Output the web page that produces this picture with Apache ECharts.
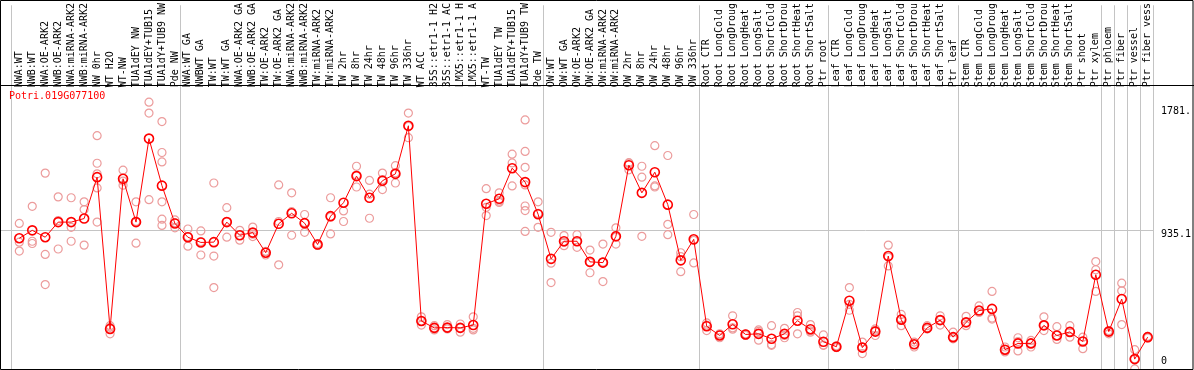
<!DOCTYPE html>
<html>
<head>
<meta charset="utf-8">
<script src="https://cdn.jsdelivr.net/npm/echarts@6/dist/echarts.min.js"></script>
<style>
html,body{margin:0;padding:0;background:#fff;}
#chart{width:1194px;height:370px;}
</style>
</head>
<body>
<div id="chart"></div>
<script>
var titleText = 'Potri.019G077100';

var categories = [
  'NWA:WT','NWB:WT','NWA:OE-ARK2','NWB:OE-ARK2','NWA:miRNA-ARK2','NWB:miRNA-ARK2','NW 0hr','WT H2O','WT-NW','TUA1dEY NW',
  'TUA1dEY+TUB15','TUA1dY+TUB9 NW','Pde NW','NWA:WT GA','NWBWT GA','TW:WT','TW:WT GA','NWA:OE-ARK2 GA','NWB:OE-ARK2 GA','TW:OE-ARK2',
  'TW:OE-ARK2 GA','NWA:miRNA-ARK2','NWB:miRNA-ARK2','TW:miRNA-ARK2','TW:miRNA-ARK2','TW 2hr','TW 8hr','TW 24hr','TW 48hr','TW 96hr',
  'TW 336hr','WT ACC','35S::etr1-1 H2','35S::etr1-1 AC','LMX5::etr1-1 H','LMX5::etr1-1 A','WT-TW','TUA1dEY TW','TUA1dEY+TUB15','TUA1dY+TUB9 TW',
  'Pde TW','OW:WT','OW:WT GA','OW:OE-ARK2','OW:OE-ARK2 GA','OW:miRNA-ARK2','OW:miRNA-ARK2','OW 2hr','OW 8hr','OW 24hr',
  'OW 48hr','OW 96hr','OW 336hr','Root CTR','Root LongCold','Root LongDroug','Root LongHeat','Root LongSalt','Root ShortCold','Root ShortDrou',
  'Root ShortHeat','Root ShortSalt','Ptr root','Leaf CTR','Leaf LongCold','Leaf LongDroug','Leaf LongHeat','Leaf LongSalt','Leaf ShortCold','Leaf ShortDrou',
  'Leaf ShortHeat','Leaf ShortSalt','Ptr leaf','Stem CTR','Stem LongCold','Stem LongDroug','Stem LongHeat','Stem LongSalt','Stem ShortCold','Stem ShortDrou',
  'Stem ShortHeat','Stem ShortSalt','Ptr shoot','Ptr xylem','Ptr phloem','Ptr fiber','Ptr vessel','Ptr fiber vess'
];

var meanValues = [
  882, 935, 889, 990, 990, 1014, 1291, 275, 1280, 990,
  1549, 1234, 981, 889, 854, 856, 990, 902, 920, 785,
  979, 1049, 983, 840, 1030, 1120, 1298, 1153, 1267, 1313,
  1635, 328, 282, 284, 282, 301, 1113, 1146, 1351, 1258,
  1043, 744, 862, 862, 724, 719, 895, 1371, 1186, 1324,
  1107, 734, 875, 293, 231, 306, 238, 242, 209, 242,
  330, 273, 189, 156, 464, 150, 257, 763, 337, 172,
  282, 334, 220, 319, 398, 409, 136, 178, 178, 299,
  231, 255, 191, 638, 257, 475, 73, 220
];

var replicateValues = [
  [981,856,796],[1096,862,847],[1318,774,572],[1159,810,1001],[1153,955,862],
  [1126,1074,836],[1569,1384,1313,1219,990],[297,242,286],[1338,1265,1237],[1126,849,995],
  [1793,1720,1140],[1663,1456,1393,1126,1010,968],[1005,952,986],[944,829,893],[931,770,860],
  [1252,763,552],[1087,889,994],[935,869,902],[957,893,909],[792,770,794],
  [1239,704,994],[1186,902,1060],[1041,922,986],[847,834,840],[1153,911,1025],
  [1065,994],[1364,1225,1305],[1269,1177,1016],[1318,1208,1275],[1368,1252,1320],
  [1720,1555,1630],[356,301,327],[297,268,282],[304,275,284],[308,253,282],
  [356,268,279],[1214,1089,1034],[1186,1122,1130],[1445,1386,1232],[1674,1463,1357,1239,1098,1067,928],
  [1126,955,1048],[922,715,585],[900,832,855],[906,821,860],[803,651,718],
  [843,592,722],[952,843,890],[1388,1384,1340],[1364,1291,895],[1502,1232,1225],
  [1436,975,906],[785,759,658],[1041,717,867],[315,264,300],[235,216,242],
  [363,282,273],[242,231,238],[268,200,258],[297,165,170],[279,231,216],
  [385,363,242],[304,253,262],[235,165,167],[156,150,162],[552,400,440],
  [187,110,153],[275,231,265],[836,697,756],[372,297,342],[187,154,172],
  [297,275,282],[363,301,334],[253,209,220],[359,297,319],[429,385,398],
  [526,348,341],[154,121,136],[216,128,190],[198,154,178],[356,264,299],
  [290,205,231],[297,220,255],[220,143,191],[726,671,526],[264,242,257],
  [581,530,304],[136,7,75],[220,215,225]
];

// group separators: category index where a new group starts
var groupBoundaries = [0, 13, 41, 53, 63, 73, 84, 85, 86, 87, 88];

var yTickLabels = ['0', '935.1', '1781.'];
var yTickLabelAnchors = [56, 911, 1732];
var yGridValues = [935.1];

var meanData = meanValues.map(function (v, i) { return [i, v]; });
var repData = [];
replicateValues.forEach(function (arr, i) {
  arr.forEach(function (v) { repData.push([i, v]); });
});

var FONT = 'DejaVu Sans Mono';
var chart = echarts.init(document.getElementById('chart'), null, {renderer: 'canvas'});

chart.setOption({
  animation: false,
  backgroundColor: '#fff',
  title: {
    text: titleText,
    left: 9, top: 91, padding: 0,
    textStyle: {color: '#ff0000', fontSize: 10, fontWeight: 'normal', fontFamily: FONT}
  },
  grid: {left: 1, right: 37.5, top: 0, bottom: 0, containLabel: false},
  xAxis: {
    type: 'value',
    position: 'top',
    offset: -85,
    min: -1.41,
    max: 87.48,
    axisLine: {show: false},
    axisTick: {show: false, customValues: groupBoundaries.map(function (b) { return b - 0.6; })},
    splitLine: {show: true, lineStyle: {color: '#c4c4c4', width: 1}},
    axisLabel: {
      show: true,
      rotate: 90,
      margin: 3,
      customValues: categories.map(function (c, i) { return i; }),
      formatter: function (v) { return categories[Math.round(v)]; },
      color: '#000',
      fontSize: 10,
      fontFamily: FONT
    }
  },
  yAxis: {
    type: 'value',
    position: 'right',
    min: 0,
    max: 2441.6,
    axisLine: {show: false},
    axisTick: {show: false, customValues: yGridValues},
    splitLine: {show: true, lineStyle: {color: '#c4c4c4', width: 1}},
    axisLabel: {
      show: true,
      margin: 7,
      customValues: yTickLabelAnchors,
      formatter: function (v) {
        var k = yTickLabelAnchors.indexOf(v);
        return k >= 0 ? yTickLabels[k] : '';
      },
      color: '#000',
      fontSize: 10,
      fontFamily: FONT
    }
  },
  graphic: [
    {type: 'rect', z: 100, silent: true,
     shape: {x: 0.5, y: 0.5, width: 1192.5, height: 369},
     style: {fill: null, stroke: '#000', lineWidth: 1}},
    {type: 'line', z: 100, silent: true,
     shape: {x1: 0, y1: 85.5, x2: 1194, y2: 85.5},
     style: {stroke: '#000', lineWidth: 1}}
  ],
  series: [
    {
      type: 'scatter',
      data: repData,
      symbol: 'circle',
      symbolSize: 8,
      clip: false,
      z: 2,
      itemStyle: {color: 'rgba(0,0,0,0)', borderColor: '#ec9c9c', borderWidth: 1.2, opacity: 1}
    },
    {
      type: 'line',
      data: meanData,
      symbol: 'circle',
      symbolSize: 9,
      showAllSymbol: true,
      clip: false,
      z: 3,
      lineStyle: {color: '#ff0000', width: 1},
      itemStyle: {color: 'rgba(0,0,0,0)', borderColor: '#ff0000', borderWidth: 1.6}
    }
  ]
});
</script>
</body>
</html>
